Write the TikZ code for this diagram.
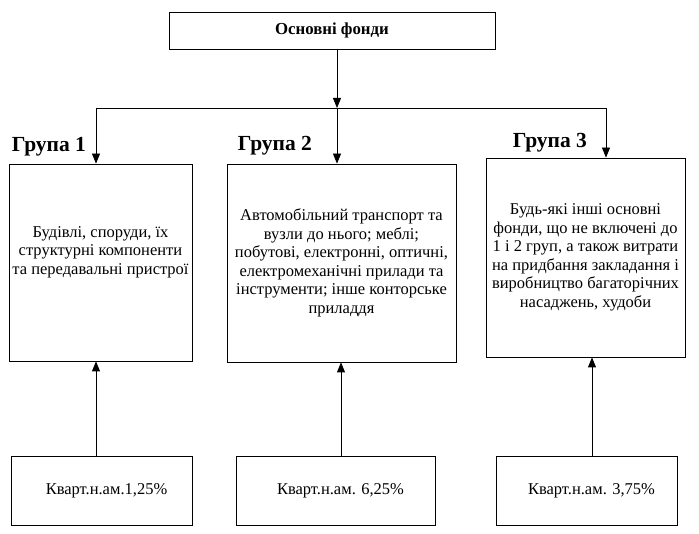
\documentclass[tikz,border=0pt]{standalone}
\usepackage{fontspec}
\setmainfont{Liberation Serif}
\usetikzlibrary{arrows.meta}
\begin{document}
\begin{tikzpicture}[x=1pt,y=-1pt,
  box/.style={draw=black,line width=0.8pt,inner sep=0pt,align=center,font=\fontsize{16.5}{18.5}\selectfont},
  txt/.style={inner sep=0pt,align=center,font=\fontsize{16.5}{18.5}\selectfont},
  grp/.style={font=\fontsize{21.5}{23}\selectfont\bfseries,inner sep=0pt},
  arr/.style={line width=0.8pt,-{Triangle[length=10pt,width=8pt]}},
  ln/.style={line width=0.8pt}]
\useasboundingbox (0,0) rectangle (699,534);
\node[box,minimum width=326pt,minimum height=37pt,font=\fontsize{16.8}{18}\selectfont\bfseries] (top) at (332,30.5) {Основні фонди};
\node[box,minimum width=183pt,minimum height=197pt] (g1) at (100.5,262.5) {};
\node[txt] (g1t) at (100.5,252) {Будівлі, споруди, їх\\структурні компоненти\\та передавальні пристрої};
\node[box,minimum width=229pt,minimum height=198pt] (g2) at (341.5,263) {Автомобільний транспорт та\\вузли до нього; меблі;\\побутові, електронні, оптичні,\\електромеханічні прилади та\\інструменти; інше конторське\\приладдя};
\node[box,minimum width=199pt,minimum height=199pt] (g3) at (585.5,257.5) {Будь-які інші основні\\фонди, що не включені до\\1 і 2 груп, а також витрати\\на придбання закладання і\\виробництво багаторічних\\насаджень, худоби};
\node[box,minimum width=181pt,minimum height=69pt,font=\fontsize{16.5}{18}\selectfont] (b1) at (101.5,490.5) {\hspace{10pt}Кварт.н.ам.1,25\%};
\node[box,minimum width=199pt,minimum height=69pt,font=\fontsize{16.5}{18}\selectfont] (b2) at (335.5,490.5) {\hspace{10pt}Кварт.н.ам. 6,25\%};
\node[box,minimum width=181pt,minimum height=69pt,font=\fontsize{16.5}{18}\selectfont] (b3) at (586.5,490.5) {\hspace{10pt}Кварт.н.ам. 3,75\%};
\node[grp] (l1) at (49,147) {Група 1};
\node[grp] (l2) at (275,146) {Група 2};
\node[grp] (l3) at (550,143) {Група 3};
\coordinate (hL) at (96,108);
\coordinate (j) at (337,108);
\coordinate (hR) at (606,108);
\draw[ln] (hL) -- (hR);
\draw[arr] (top.south -| j) -- (j);
\draw[arr] (hL) -- (g1.north -| hL);
\draw[arr] (j) -- (g2.north -| j);
\draw[arr] (hR) -- (g3.north -| hR);
\draw[arr] ([xshift=-5.5pt]b1.north) -- ([xshift=-5.5pt]b1.north |- g1.south);
\draw[arr] ([xshift=5.5pt]b2.north) -- ([xshift=5.5pt]b2.north |- g2.south);
\draw[arr] ([xshift=5.5pt]b3.north) -- ([xshift=5.5pt]b3.north |- g3.south);
\end{tikzpicture}
\end{document}
